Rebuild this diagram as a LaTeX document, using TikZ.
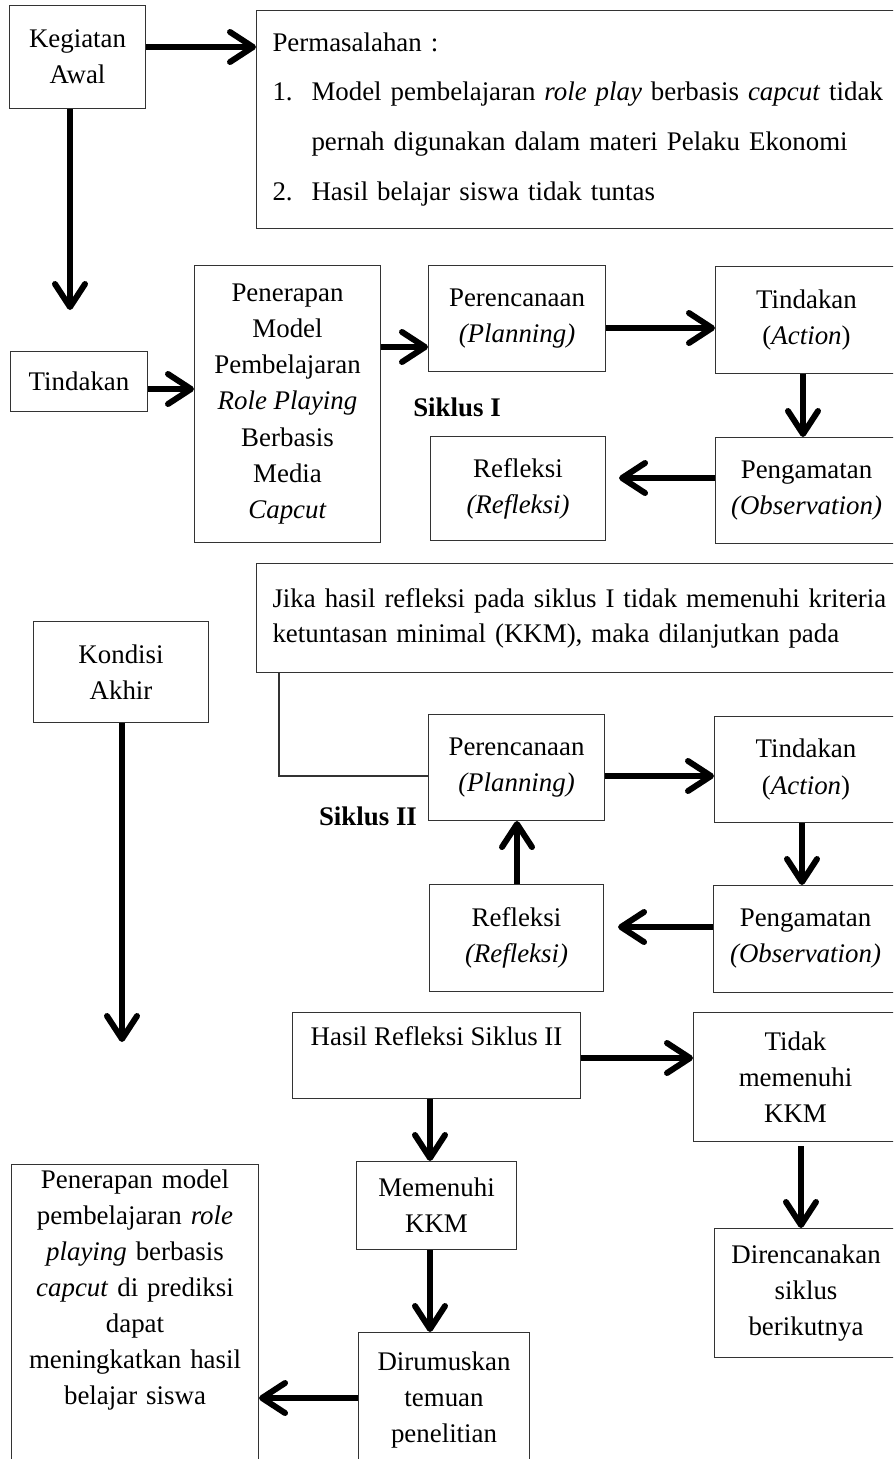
\documentclass[tikz,border=0pt]{standalone}
\usepackage{fontspec}
\setmainfont{Liberation Serif}
\usetikzlibrary{arrows.meta}
\newcommand{\hurufkotak}{\fontsize{15.3}{20.5}\selectfont}

\begin{document}
\begin{tikzpicture}[>={Straight Barb[length=4.6mm,width=6mm,round]},
	kotak/.style={draw=black!80, line width=0.6pt, align=center, anchor=north west, inner sep=0pt, font=\hurufkotak},
	panah/.style={->, line width=3.4pt},
	garis/.style={draw=black!80, line width=0.6pt},
	siklus/.style={font=\hurufkotak\bfseries}]
	\useasboundingbox (0,0) rectangle (17.86,-29.18);
	\clip (0,0) rectangle (17.86,-29.18);
	\node[kotak, minimum width=2.72cm, minimum height=2.06cm] (awal) at (0.18,-0.10) {Kegiatan\\Awal};
	\node[kotak, align=left, text width=13cm, inner xsep=0.32cm, minimum height=4.36cm, font=\fontsize{15.3}{28.45}\selectfont] (masalah) at (5.12,-0.20) {Permasalahan :\\
		\makebox[0.78cm][l]{1.}Model pembelajaran \emph{role play} berbasis \emph{capcut} tidak\\
		\hspace*{0.78cm}pernah digunakan dalam materi Pelaku Ekonomi\\
		\makebox[0.78cm][l]{2.}Hasil belajar siswa tidak tuntas};
	\node[kotak, minimum width=2.74cm, minimum height=1.20cm] (tind) at (0.20,-7.02) {Tindakan};
	\node[kotak, minimum width=3.72cm, minimum height=5.54cm] (pen) at (3.88,-5.30) {Penerapan\\Model\\Pembelajaran\\\emph{Role Playing}\\Berbasis\\Media\\\emph{Capcut}};
	\node[kotak, minimum width=3.54cm, minimum height=2.12cm] (ren1) at (8.56,-5.30) {Perencanaan\\\emph{(Planning)}};
	\node[kotak, minimum width=3.64cm, minimum height=2.14cm] (tin1) at (14.30,-5.32) {Tindakan\\(\emph{Action})};
	\node[kotak, minimum width=3.64cm, minimum height=2.12cm] (pgm1) at (14.30,-8.74) {Pengamatan\\\emph{(Observation)}};
	\node[kotak, minimum width=3.50cm, minimum height=2.08cm] (ref1) at (8.60,-8.72) {Refleksi\\\emph{(Refleksi)}};
	\node[siklus] (sik1) at (9.14,-8.14) {Siklus I};
	\node[kotak, align=left, text width=13cm, inner xsep=0.32cm, minimum height=2.18cm, font=\fontsize{15.3}{19.9}\selectfont] (jika) at (5.12,-11.26) {Jika hasil refleksi pada siklus I tidak memenuhi kriteria\\ketuntasan minimal (KKM), maka dilanjutkan pada};
	\node[kotak, minimum width=3.50cm, minimum height=2.02cm] (akhir) at (0.66,-12.42) {Kondisi\\Akhir};
	\node[kotak, minimum width=3.52cm, minimum height=2.12cm] (ren2) at (8.56,-14.28) {Perencanaan\\\emph{(Planning)}};
	\node[kotak, minimum width=3.66cm, minimum height=2.12cm] (tin2) at (14.28,-14.32) {Tindakan\\(\emph{Action})};
	\node[kotak, minimum width=3.68cm, minimum height=2.14cm] (pgm2) at (14.26,-17.70) {Pengamatan\\\emph{(Observation)}};
	\node[kotak, minimum width=3.48cm, minimum height=2.14cm] (ref2) at (8.58,-17.68) {Refleksi\\\emph{(Refleksi)}};
	\node[siklus] (sik2) at (7.36,-16.32) {Siklus II};
	\node[kotak, minimum width=5.76cm, text height=0.66cm, text depth=1.06cm] (hasil) at (5.84,-20.24) {Hasil Refleksi Siklus II};
	\node[kotak, minimum width=4.08cm, minimum height=2.58cm] (tidak) at (13.86,-20.24) {Tidak\\memenuhi\\KKM};
	\node[kotak, minimum width=3.20cm, minimum height=1.76cm] (penuh) at (7.12,-23.22) {Memenuhi\\KKM};
	\node[kotak, minimum width=3.42cm, minimum height=2.70cm] (rumus) at (7.16,-26.64) {Dirumuskan\\temuan\\penelitian};
	\node[kotak, text width=4.74cm, inner xsep=0.1cm, inner ysep=0.1cm, text depth=6.3cm] (model) at (0.22,-23.28) {Penerapan model\\pembelajaran \emph{role}\\\emph{playing} berbasis\\\emph{capcut} di prediksi\\dapat\\meningkatkan hasil\\belajar siswa};
	\node[kotak, minimum width=3.66cm, minimum height=2.58cm] (rencana) at (14.28,-24.56) {Direncanakan\\siklus\\berikutnya};
	\coordinate (awalbawah) at (1.40,-6.20);
	\coordinate (akhirbawah) at (2.44,-20.84);
	\draw[panah] (awal.east |- 0,-0.94) -- (masalah.west |- 0,-0.94);
	\draw[panah] (awal.south -| awalbawah) -- (awalbawah);
	\draw[panah] (tind.east |- 0,-7.78) -- (pen.west |- 0,-7.78);
	\draw[panah] (pen.east |- 0,-6.94) -- (ren1.west |- 0,-6.94);
	\draw[panah] (ren1.east |- 0,-6.56) -- (tin1.west |- 0,-6.56);
	\draw[panah] (tin1.south -| 16.06,0) -- (pgm1.north -| 16.06,0);
	\draw[panah, shorten >=0.26cm] (pgm1.west |- 0,-9.56) -- (ref1.east |- 0,-9.56);
	\draw[garis] (jika.south -| 5.58,0) |- (ren2.west |- 0,-15.52);
	\draw[panah] (ren2.east |- 0,-15.52) -- (tin2.west |- 0,-15.52);
	\draw[panah] (tin2.south -| 16.04,0) -- (pgm2.north -| 16.04,0);
	\draw[panah, shorten >=0.28cm] (pgm2.west |- 0,-18.54) -- (ref2.east |- 0,-18.54);
	\draw[panah] (ref2.north -| 10.34,0) -- (ren2.south -| 10.34,0);
	\draw[panah] (akhir.south -| akhirbawah) -- (akhirbawah);
	\draw[panah] (hasil.east |- 0,-21.16) -- (tidak.west |- 0,-21.16);
	\draw[panah] (hasil.south -| 8.60,0) -- (penuh.north -| 8.60,0);
	\draw[panah] (penuh.south -| 8.60,0) -- (rumus.north -| 8.60,0);
	\draw[panah] (rumus.west |- 0,-27.96) -- (model.east |- 0,-27.96);
	\draw[panah, shorten <=0.08cm] (tidak.south -| 16.02,0) -- (rencana.north -| 16.02,0);
\end{tikzpicture}
\end{document}
